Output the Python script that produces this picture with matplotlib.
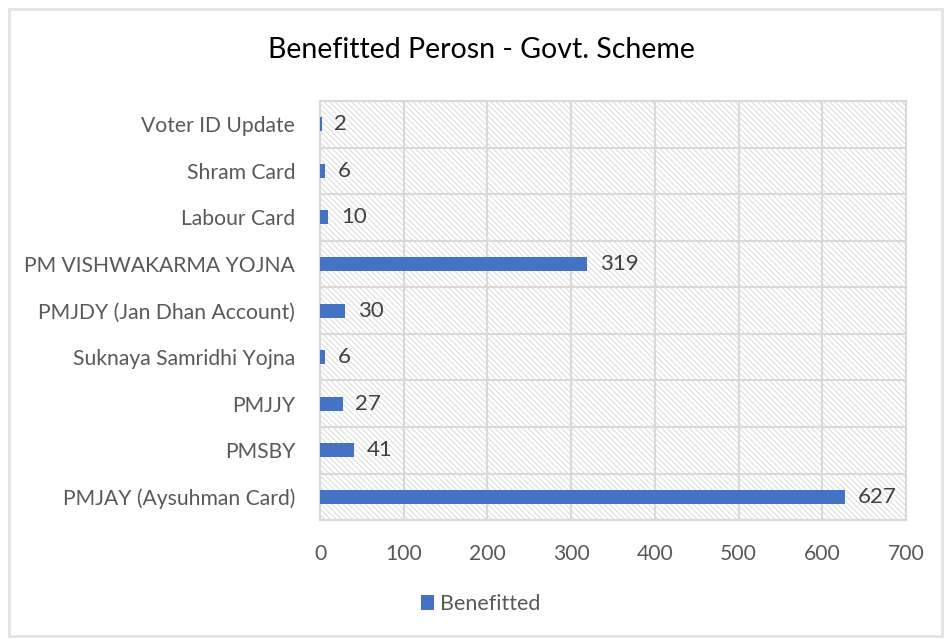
import matplotlib.pyplot as plt
from matplotlib.patches import Rectangle

schemes = ["PMJAY (Aysuhman Card)", "PMSBY", "PMJJY", "Suknaya Samridhi Yojna",
           "PMJDY (Jan Dhan Account)", "PM VISHWAKARMA YOJNA", "Labour Card",
           "Shram Card", "Voter ID Update"]
benefitted = [627, 41, 27, 6, 30, 319, 10, 6, 2]
xticks = [0, 100, 200, 300, 400, 500, 600, 700]

plt.rcParams['font.family'] = ['Lato', 'DejaVu Sans']
plt.rcParams['hatch.linewidth'] = 0.6
plt.rcParams['hatch.color'] = '#d6d6d6'

fig = plt.figure(figsize=(9.48, 6.39), dpi=100)
fig.patches.append(Rectangle((0.009, 0.004), 0.985, 0.982, transform=fig.transFigure,
                             fill=False, edgecolor='#e3e3e3', linewidth=2))
ax = fig.add_axes([0.3376, 0.186, 0.618, 0.656])

ax.patch.set_facecolor('white')
ax.patch.set_hatch('\\' * 6)
ax.patch.set_edgecolor('#d6d6d6')

y = list(range(len(schemes)))
bars = ax.barh(y, benefitted, height=0.3, color='#4472C4', label='Benefitted', zorder=3)
for yi, v in zip(y, benefitted):
    ax.text(v + 15, yi, str(v), va='center', ha='left', fontsize=16, color='#404040', zorder=4)

ax.set_xlim(0, 700)
ax.set_ylim(-0.5, len(schemes) - 0.5)
ax.set_xticks(xticks)
ax.set_yticks(y)
ax.set_yticklabels(schemes)
ax.set_yticks([k - 0.5 for k in range(len(schemes) + 1)], minor=True)
ax.tick_params(axis='both', length=0, labelsize=15.2, colors='#595959')
ax.tick_params(axis='y', which='minor', length=0)
ax.tick_params(axis='x', pad=17)
ax.tick_params(axis='y', pad=18)
ax.grid(axis='x', color='#d9d9d9', linewidth=1.5, zorder=1)
ax.grid(axis='y', which='minor', color='#d9d9d9', linewidth=1.5, zorder=1)
ax.set_axisbelow(True)
for s in ax.spines.values():
    s.set_color('#d9d9d9')
    s.set_linewidth(1.5)

fig.text(0.508, 0.922, "Benefitted Perosn - Govt. Scheme", ha='center', va='center',
         fontsize=20.5, color='black')
fig.legend(handles=[bars], labels=['Benefitted'], loc='center', bbox_to_anchor=(0.507, 0.055),
           frameon=False, fontsize=15.5, handlelength=0.6, handleheight=0.7,
           handletextpad=0.3, labelcolor='#595959')

fig.savefig('out.png', dpi=100)
